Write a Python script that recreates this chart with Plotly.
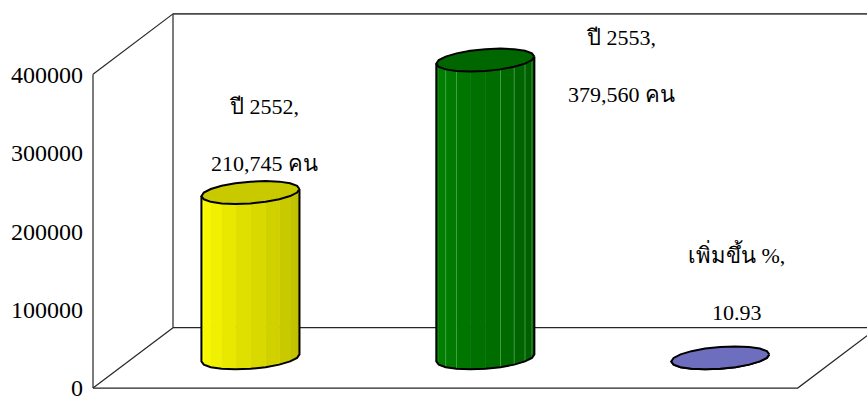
import numpy as np
import plotly.graph_objects as go

# ---- data -------------------------------------------------------------
categories = ["ปี 2552", "ปี 2553", "เพิ่มขึ้น %"]
values = [210745, 379560, 10.93]
units = ["คน", "คน", ""]
y_ticks = [0, 100000, 200000, 300000, 400000]
y_tick_text = ["0", "100000", "200000", "300000", "400000"]

# ---- styling ----------------------------------------------------------
body_light = [(255, 255, 0), (0, 130, 0), (118, 118, 200)]
body_dark = [(186, 186, 0), (0, 92, 0), (84, 84, 156)]
top_colors = ["#C9C900", "#006600", "#6E6EBE"]
seam_colors = [None, "rgba(110,190,110,0.8)", None]

# label anchor positions (data coordinates) for the value callouts
label_x = [0.728, 2.252, 2.74]
label_y = [323000, 410700, 135000]

# ---- projection helpers ------------------------------------------------
PX_X = 234.9                 # pixels per category slot
PX_Y = 317 / 400000          # pixels per value unit
LEFT = 88                    # left page margin in pixels
DEPTH_X = 80 / PX_X          # depth vector, x component (data units)
DEPTH_Y = 61 / PX_Y          # depth vector, y component (data units)
R_X = 46.6 / PX_X            # cylinder radius along x
R_D = 0.19                   # cylinder radius along depth (fraction of depth)
N_SIDES = 20
FONT = "Liberation Serif"
Y_MAX = y_ticks[-1]

fig = go.Figure()


def line(xs, ys, color="#262626", width=1.2):
    fig.add_trace(go.Scatter(x=xs, y=ys, mode="lines",
                             line=dict(color=color, width=width),
                             hoverinfo="skip", showlegend=False))


def poly(xs, ys, fill, edge=None, width=0):
    fig.add_trace(go.Scatter(x=list(xs) + [xs[0]], y=list(ys) + [ys[0]],
                             mode="lines", fill="toself", fillcolor=fill,
                             line=dict(color=edge or fill, width=width if edge else 0.6),
                             hoverinfo="skip", showlegend=False))


# ---- 3-D frame: back wall edges and floor -----------------------------
n_cat = len(categories)
line([DEPTH_X, DEPTH_X], [DEPTH_Y, Y_MAX + DEPTH_Y])                       # back wall left edge
line([DEPTH_X, n_cat + DEPTH_X], [Y_MAX + DEPTH_Y, Y_MAX + DEPTH_Y], "#4a4a4a", 1.6)  # back wall top
line([DEPTH_X, n_cat + DEPTH_X], [DEPTH_Y, DEPTH_Y])                       # back floor edge
line([0, 0], [0, Y_MAX])                                                    # side wall front edge
line([0, DEPTH_X], [Y_MAX, Y_MAX + DEPTH_Y])                               # side wall top
line([0, DEPTH_X], [0, DEPTH_Y])                                            # floor left edge
line([0, n_cat, n_cat + DEPTH_X], [0, 0, DEPTH_Y])                         # floor front + right


# ---- cylinders ---------------------------------------------------------
def ring_point(cx, cy, th):
    a = R_X
    b = R_D * DEPTH_X
    c = R_D * DEPTH_Y
    return cx + a * np.cos(th) + b * np.sin(th), cy + c * np.sin(th)


def rgb(c):
    return "rgb(%d,%d,%d)" % tuple(int(round(v)) for v in c)


th_right = np.arctan2(R_D * DEPTH_X, R_X)
half = N_SIDES // 2
front_th = [th_right - 2 * np.pi * j / N_SIDES for j in range(half + 1)]
all_th = [th_right + 2 * np.pi * k / N_SIDES for k in range(N_SIDES)]

for i, v in enumerate(values):
    cx = i + 0.5 + 0.5 * DEPTH_X
    base = 0.5 * DEPTH_Y
    top = base + v

    # front facets, shaded from bright (left) to dark (right)
    for j in range(half):
        t = (half - 1 - j) / (half - 1)
        col = [body_light[i][k] * (1 - t) + body_dark[i][k] * t for k in range(3)]
        x0, yb0 = ring_point(cx, base, front_th[j])
        x1, yb1 = ring_point(cx, base, front_th[j + 1])
        _, yt0 = ring_point(cx, top, front_th[j])
        _, yt1 = ring_point(cx, top, front_th[j + 1])
        poly([x0, x1, x1, x0], [yb0, yb1, yt1, yt0], rgb(col))

    if seam_colors[i]:
        for j in (1, 2, 3, 4, 7, 8):
            xs, yb = ring_point(cx, base, front_th[j])
            _, yt = ring_point(cx, top, front_th[j])
            line([xs, xs], [yb, yt], seam_colors[i], 0.7)

    # silhouette outline of the body
    xl, ybl = ring_point(cx, base, front_th[-1])
    _, ytl = ring_point(cx, top, front_th[-1])
    xr, ytr = ring_point(cx, top, front_th[0])
    arc = [ring_point(cx, base, th) for th in front_th[::-1]]
    ox = [xl, xl] + [p[0] for p in arc] + [xr]
    oy = [ytl, ybl] + [p[1] for p in arc] + [ytr]
    line(ox, oy, "black", 2)

    # top face
    pts = [ring_point(cx, top, th) for th in all_th]
    poly([p[0] for p in pts], [p[1] for p in pts], top_colors[i], "black", 2)

    # value callout
    val = f"{v:,.0f}" if float(v).is_integer() else f"{v:.2f}"
    text = f"{categories[i]},<br><br>{val}" + (f" {units[i]}" if units[i] else "")
    fig.add_annotation(x=label_x[i], y=label_y[i], text=text, showarrow=False,
                       font=dict(family=FONT, size=22, color="black"),
                       align="center", xanchor="center", yanchor="middle")

# ---- layout ------------------------------------------------------------
W, H = 867, 401
x_lo = -(93 - LEFT) / PX_X
x_hi = (W - 93) / PX_X
y_lo = -(H - 392) / PX_Y
y_hi = 392 / PX_Y

fig.update_layout(
    width=W, height=H,
    margin=dict(l=LEFT, r=0, t=0, b=0),
    paper_bgcolor="white", plot_bgcolor="white",
    showlegend=False,
    font=dict(family=FONT),
    xaxis=dict(range=[x_lo, x_hi], visible=False, fixedrange=True),
    yaxis=dict(range=[y_lo, y_hi], tickvals=y_ticks, ticktext=y_tick_text,
               showgrid=False, zeroline=False, showline=False, ticks="",
               ticklabelstandoff=4, ticklabeloverflow="allow",
               tickfont=dict(family=FONT, size=24, color="black"),
               fixedrange=True),
)

fig.write_html("out.html")
